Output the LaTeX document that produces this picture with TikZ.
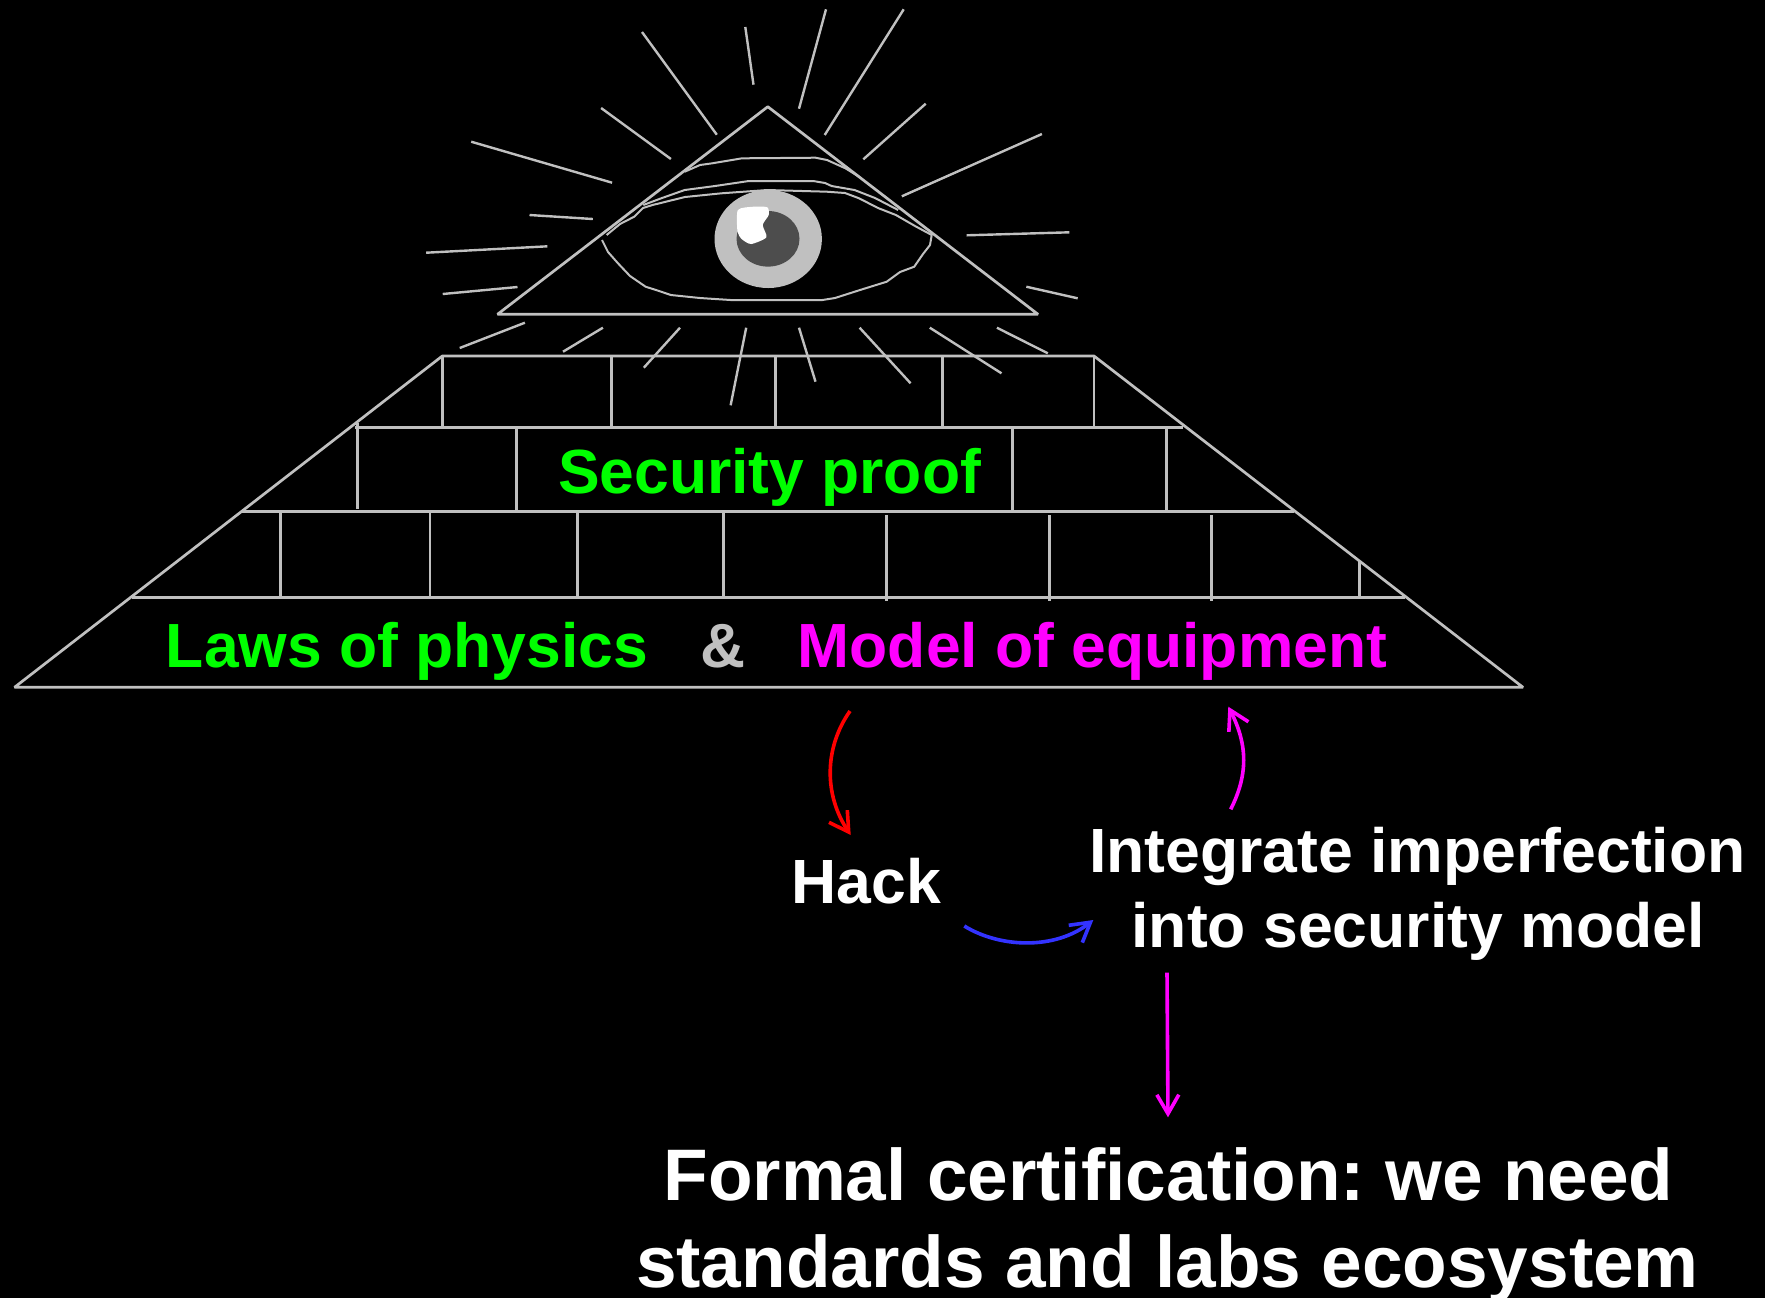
\documentclass[tikz,border=0pt]{standalone}
\usepackage{fontspec}
\setmainfont{Liberation Sans}
\usetikzlibrary{arrows.meta}
\definecolor{linegray}{HTML}{C0C0C0}
\definecolor{pupilgray}{HTML}{4D4D4D}
\definecolor{hotgreen}{HTML}{00FF00}
\definecolor{hotpink}{HTML}{FF00FF}
\definecolor{hackblue}{HTML}{3333FF}
\tikzset{
  wall/.style={draw=linegray,line width=1.35pt,line join=bevel},
  brick/.style={draw=linegray,line width=1.35pt},
  ray/.style={draw=linegray,line width=1.2pt},
  lid/.style={draw=linegray,line width=1pt,line join=round},
  label/.style={anchor=base,inner sep=0pt,outer sep=0pt,font=\bfseries\fontsize{31.2pt}{36pt}\selectfont},
  midlabel/.style={label,font=\bfseries\fontsize{31.25pt}{36pt}\selectfont},
  biglabel/.style={anchor=base,inner sep=0pt,outer sep=0pt,font=\bfseries\fontsize{36.5pt}{42pt}\selectfont,text=white},
  flow/.style={line width=1.8pt,-{Straight Barb[length=9.5pt,width=11pt,line width=1.8pt]}}
}
\begin{document}
\frenchspacing
\begin{tikzpicture}[x=0.5pt,y=-0.5pt]
\useasboundingbox (0,0) rectangle (1765,1298);
\fill[black] (0,0) rectangle (1765,1298);
% top triangle
\draw[wall] (767.8,106.7) -- (1038,314.3) -- (497.5,314.3) -- cycle;
% rays
\foreach \a/\b/\c/\d in {642/32/716.8/134.7,745.3/27/753.5/84.7,826/9.3/799/108.7,903.7/9.3/824.7/135,
 925.7/103.7/863.3/159.3,1041.9/134/901.8/196.3,1069.4/232.3/966.6/235.3,1026.3/286.7/1077.7/298.3,
 996.9/327.7/1047.8/353.3,929.8/327.7/1001.5/373.3,859.6/327.7/910.6/383.3,799/327.7/815.5/381.7,
 746.2/327.7/730.6/405.3,680/327.7/643.8/367.7,602.9/327.7/563/351.7,524.9/322.7/459.7/348,
 442.7/294/517.5/287,426.2/252.7/547.4/246.3,529.5/215/592.8/219,471.2/141.7/612.1/182.7,601.1/108/670.9/159}
  {\draw[ray] (\a,\b) -- (\c,\d);}
% eye
\draw[lid] (602,240) -- (608,252) -- (618,263.3) -- (630,276) -- (645.6,286.7) -- (656,290) -- (670.9,295) -- (700,298) -- (730.6,300) -- (822.4,300) -- (835,298) -- (860,290) -- (886.7,281.7) -- (900,272) -- (914.2,266.7) -- (923,254) -- (930,245) -- (931.7,235);
\draw[lid] (606.6,235) -- (620,224) -- (634.2,216.7) -- (643,208) -- (652.5,205) -- (685,197) -- (721.4,193.3) -- (767.3,190) -- (827,191.7) -- (845,193) -- (859.1,198.3) -- (878,208) -- (895.9,215) -- (915,226) -- (931.7,235);
\draw[lid] (643.3,205) -- (662,198) -- (684.7,190) -- (715,186) -- (748.9,181) -- (813.2,181) -- (825,183) -- (831.6,186) -- (854.5,190) -- (875,198) -- (898.2,210);
\draw[lid] (684.7,171.7) -- (700,165) -- (712.2,163.3) -- (742,158.3) -- (815.5,157.7) -- (827,160) -- (845.4,168.3) -- (859.1,176.7);
\fill[linegray] (768.2,239) ellipse [x radius=53.7,y radius=49];
\fill[pupilgray] (768,238.8) ellipse [x radius=31.5,y radius=27.8];
\fill[white] plot[smooth cycle,tension=0.4] coordinates {(737.9,210) (753.5,206.7) (767.3,207.3) (768.7,215) (762.7,225) (766.4,237.3) (751.2,244) (742,239.3) (737.5,231.7)};
% pyramid outline
\draw[wall] (442.3,356) -- (14.5,687.3) -- (1523,687.3) -- (1094,356) -- cycle;
% brick courses
\draw[brick] (354.6,427.3) -- (1183,427.3);
\draw[brick] (242.3,511.3) -- (1293.7,511.3);
\draw[brick] (131.6,597.3) -- (1404.9,597.3);
\foreach \x in {442.3,611.2,775.5,942.4,1094} {\draw[brick] (\x,356) -- (\x,427.3);}
\draw[brick] (357.7,422.7) -- (357.7,509);
\foreach \x in {516.3,1012.7,1166.8} {\draw[brick] (\x,427.3) -- (\x,511.3);}
\foreach \x in {280.6,430.1,577.6,723.5} {\draw[brick] (\x,511.3) -- (\x,597.3);}
\foreach \x in {886.3,1049.3,1211.7} {\draw[brick] (\x,515) -- (\x,600.7);}
\draw[brick] (1359.5,561.7) -- (1359.5,597.3);
% labels
\node[label,text=hotgreen] (proof) at (769.5,493.3) {Security proof};
\node[label,text=hotgreen] (laws) at (407,667.3) {Laws of physics};
\node[label,text=linegray] (amp) at (723,667.3) {\&};
\node[label,text=hotpink] (model) at (1092.5,667.3) {Model of equipment};
\node[midlabel,text=white] (hack) at (866.5,903.8) {Hack};
\node[midlabel,text=white] (integrate) at (1417.5,872.3) {Integrate imperfection};
\node[midlabel,text=white] (into) at (1418,947.5) {into security model};
\node[biglabel] (formal) at (1168.5,1200) {Formal certification: we need};
\node[biglabel] (labs) at (1167.5,1287.5) {standards and labs ecosystem};
% connector ends
\coordinate (redstart) at (850,711);
\coordinate (redend) at (850.7,835);
\coordinate (pinkstart) at (1230.7,809.3);
\coordinate (pinkend) at (1228.3,706.7);
\coordinate (bluestart) at (964.3,926);
\coordinate (blueend) at (1093.3,920);
\coordinate (downstart) at (1167,972.7);
\coordinate (downend) at (1168,1117.3);
\draw[flow,red] (redstart) .. controls (824,748) and (824,795) .. (redend);
\draw[flow,hotpink] (pinkstart) .. controls (1248,775) and (1248,745) .. (pinkend);
\draw[flow,hackblue] (bluestart) .. controls (1000,948) and (1055,950) .. (blueend);
\draw[flow,hotpink] (downstart) -- (downend);
\end{tikzpicture}
\end{document}
